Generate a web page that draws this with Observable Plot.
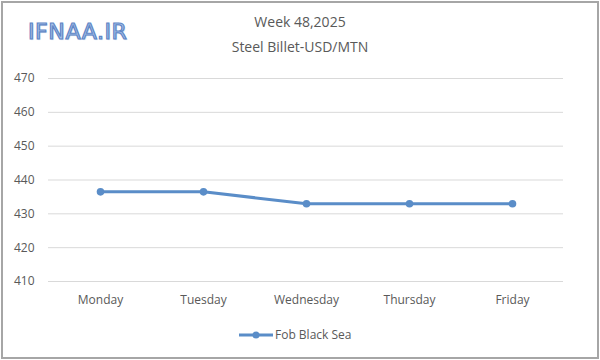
<!DOCTYPE html>
<html><head><meta charset="utf-8">
<script src="https://cdn.jsdelivr.net/npm/d3@7"></script>
<script src="https://cdn.jsdelivr.net/npm/@observablehq/plot@0.6"></script>
<style>
body{margin:0;background:#fff;font-family:"Open Sans",Lato,sans-serif;}
#wrap{position:relative;width:600px;height:360px;overflow:hidden;}
#border{position:absolute;left:1px;top:1px;width:594px;height:354px;border:2px solid #a6a6a6;pointer-events:none;}
#logo{position:absolute;left:28px;top:19px;font-family:"DejaVu Sans",sans-serif;font-size:22px;font-weight:normal;color:#a9c3ea;-webkit-text-stroke:1.2px #5f86c6;text-shadow:1px 1px 1px #c9d6ea;letter-spacing:0.6px;}
.t{position:absolute;left:0;width:600px;text-align:center;color:#595959;font-size:14px;}
#legend{position:absolute;top:326px;left:238px;font-size:12px;color:#595959;display:flex;align-items:center;}
svg.plot{position:absolute;left:0;top:0;}
</style></head><body>
<div id="wrap">
<div id="chart"></div>
<div id="logo">IFNAA.IR</div>
<div class="t" style="top:12px">Week 48,2025</div>
<div class="t" style="top:37px">Steel Billet-USD/MTN</div>
<div id="legend"><svg width="36" height="12"><line x1="1" y1="6" x2="35" y2="6" stroke="#5a8dc8" stroke-width="3"/><circle cx="18" cy="6" r="3.5" fill="#5a8dc8"/></svg><span style="margin-left:1px">Fob Black Sea</span></div>
<div id="border"></div>
</div>
<script>
const days = ["Monday","Tuesday","Wednesday","Thursday","Friday"];
const fobBlackSea = [436.5, 436.5, 433, 433, 433];
const yTicks = [410,420,430,440,450,460,470];
const data = days.map((d,i)=>({day:d, value:fobBlackSea[i]}));
const chart = Plot.plot({
  width:600, height:360,
  marginLeft:48, marginRight:37, marginTop:78, marginBottom:79,
  style:{fontFamily:"Open Sans, sans-serif", fontSize:"12px", color:"#595959", background:"transparent"},
  x:{type:"point", domain:days, padding:0.5, label:null, tickSize:0, tickPadding:14},
  y:{domain:[410,470], ticks:yTicks, label:null, tickSize:0, tickPadding:14},
  marks:[
    Plot.gridY(yTicks,{stroke:"#d9d9d9", strokeOpacity:1}),
    Plot.line(data,{x:"day", y:"value", stroke:"#5a8dc8", strokeWidth:3}),
    Plot.dot(data,{x:"day", y:"value", fill:"#5a8dc8", r:3.8}),
  ]
});
document.getElementById("chart").appendChild(chart);
</script>
</body></html>
